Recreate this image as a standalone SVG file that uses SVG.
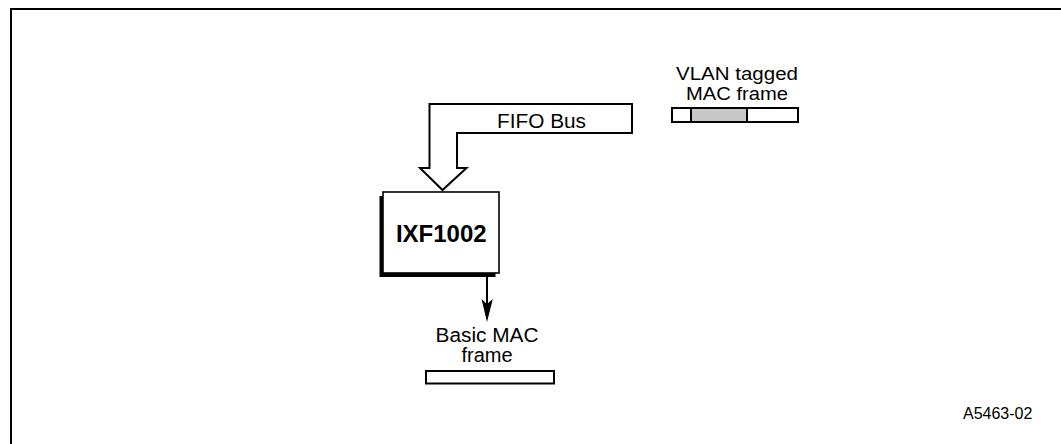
<svg xmlns="http://www.w3.org/2000/svg" width="1061" height="444" viewBox="0 0 1061 444">
<style>
.t{font-family:"Liberation Sans",Arial,sans-serif;font-size:20px;fill:#000;text-anchor:middle}
.b{font-weight:bold;font-size:24px}
.v{font-size:17.5px}
.s{font-size:16px;text-anchor:start}
.ln{fill:none;stroke:#000;stroke-width:2}
</style>
<rect x="0" y="0" width="1061" height="444" fill="#fff"/>
<path d="M11,444 V9 H1061" class="ln" stroke-width="2.2"/>
<g id="connectors">
<path d="M632,104 H429.5 V168 H420 L442.5,190 L466.5,168 H457 V133 H632 Z" fill="#fff" stroke="#000" stroke-width="2"/>
<line x1="487" y1="277" x2="487" y2="304" stroke="#000" stroke-width="2"/>
<path d="M481.5,299 L487,322 L492.8,299 L487,304 Z" fill="#000"/>
</g>
<g id="fifo-bus-label"><text class="t" x="541.5" y="128" textLength="89" lengthAdjust="spacingAndGlyphs">FIFO Bus</text></g>
<g id="ixf1002">
<rect x="379.5" y="196" width="116" height="81" fill="#000"/>
<rect x="383" y="192" width="116" height="81" fill="#fff" stroke="#000" stroke-width="1.6"/>
<text class="t b" x="441.3" y="241.5">IXF1002</text>
</g>
<g id="vlan-frame">
<text class="t v" x="737" y="79.5" textLength="122" lengthAdjust="spacingAndGlyphs">VLAN tagged</text>
<text class="t v" x="737" y="99.5" textLength="102" lengthAdjust="spacingAndGlyphs">MAC frame</text>
<rect x="672" y="108" width="126" height="14" fill="#fff" stroke="#000" stroke-width="2"/>
<rect x="691" y="108" width="56" height="14" fill="#c8c8c8" stroke="#000" stroke-width="2"/>
</g>
<g id="basic-frame">
<text class="t" x="487" y="341.5" textLength="103" lengthAdjust="spacingAndGlyphs">Basic MAC</text>
<text class="t" x="487" y="362">frame</text>
<rect x="426" y="371" width="128" height="12.5" fill="#fff" stroke="#000" stroke-width="2"/>
</g>
<g id="figure-id"><text class="t s" x="963" y="418.5">A5463-02</text></g>
</svg>
